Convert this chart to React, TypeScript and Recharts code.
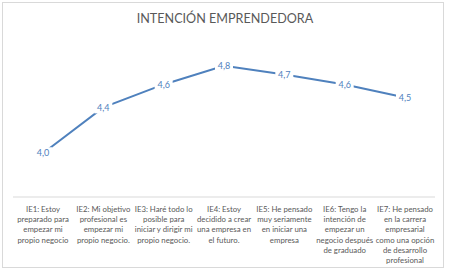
import React from "react";
import { LineChart, Line, XAxis, YAxis, LabelList } from "recharts";

// Category keys and their wrapped tick labels (as wrapped in the original)
const CATEGORIES = ["IE1", "IE2", "IE3", "IE4", "IE5", "IE6", "IE7"];
const TICK_LINES: string[][] = [
  ["IE1: Estoy", "preparado para", "empezar mi", "propio negocio"],
  ["IE2: Mi objetivo", "profesional es", "empezar mi", "propio negocio."],
  ["IE3: Haré todo lo", "posible para", "iniciar y dirigir mi", "propio negocio."],
  ["IE4: Estoy", "decidido a crear", "una empresa en", "el futuro."],
  ["IE5: He pensado", "muy seriamente", "en iniciar una", "empresa"],
  ["IE6: Tengo la", "intención de", "empezar un", "negocio después", "de graduado"],
  ["IE7: He pensado", "en la carrera", "empresarial", "como una opción", "de desarrollo", "profesional"],
];
const VALUES = [4.0, 4.42, 4.63, 4.8, 4.72, 4.63, 4.51];

const TITLE = "INTENCIÓN EMPRENDEDORA";
const BLUE = "#4f81bd";
const GRAY_TEXT = "#595959";
const FONT = "Lato, 'Open Sans', sans-serif";

const data = CATEGORIES.map((key, i) => ({ key, value: VALUES[i] }));

function MultiLineTick(props: any) {
  const { x, y, payload } = props;
  const lines = TICK_LINES[payload.index] ?? [];
  return (
    <g transform={`translate(${x},${y})`}>
      <text textAnchor="middle" fill={GRAY_TEXT} fontSize={7.8} fontFamily={FONT}>
        {lines.map((ln, i) => (
          <tspan key={i} x={0} y={7 + i * 10.2}>
            {ln}
          </tspan>
        ))}
      </text>
    </g>
  );
}

function ValueLabel(props: any) {
  const { x, y, value } = props;
  const txt = Number(value).toFixed(1).replace(".", ",");
  return (
    <g>
      <rect x={x - 9} y={y - 6} width={18} height={12} fill="#ffffff" />
      <text
        x={x}
        y={y}
        dy={3.2}
        textAnchor="middle"
        fill={BLUE}
        fontSize={9}
        fontFamily={FONT}
      >
        {txt}
      </text>
    </g>
  );
}

export default function App() {
  return (
    <div style={{ position: "absolute", left: 0, top: 0, width: 450, height: 271, background: "#fff" }}>
      <div
        style={{
          position: "absolute",
          left: 2,
          top: 2,
          width: 440,
          height: 264,
          border: "1px solid #d9d9d9",
        }}
      />
      <div
        style={{
          position: "absolute",
          left: 0,
          top: 11,
          width: 450,
          textAlign: "center",
          fontFamily: FONT,
          fontSize: 12.6,
          color: GRAY_TEXT,
        }}
      >
        {TITLE}
      </div>
      <div style={{ position: "absolute", left: 0, top: 0 }}>
        <LineChart
          width={450}
          height={271}
          data={data}
          margin={{ top: 44, right: 15, bottom: 4, left: 13 }}
        >
          <XAxis
            dataKey="key"
            height={70}
            interval={0}
            padding={{ left: 30, right: 30 }}
            tick={<MultiLineTick />}
            tickLine={false}
            axisLine={{ stroke: "#d9d9d9" }}
          />
          <YAxis hide domain={[3.6, 5.0]} />
          <Line
            type="linear"
            dataKey="value"
            stroke={BLUE}
            strokeWidth={2}
            dot={false}
            isAnimationActive={false}
          >
            <LabelList dataKey="value" content={<ValueLabel />} />
          </Line>
        </LineChart>
      </div>
    </div>
  );
}
